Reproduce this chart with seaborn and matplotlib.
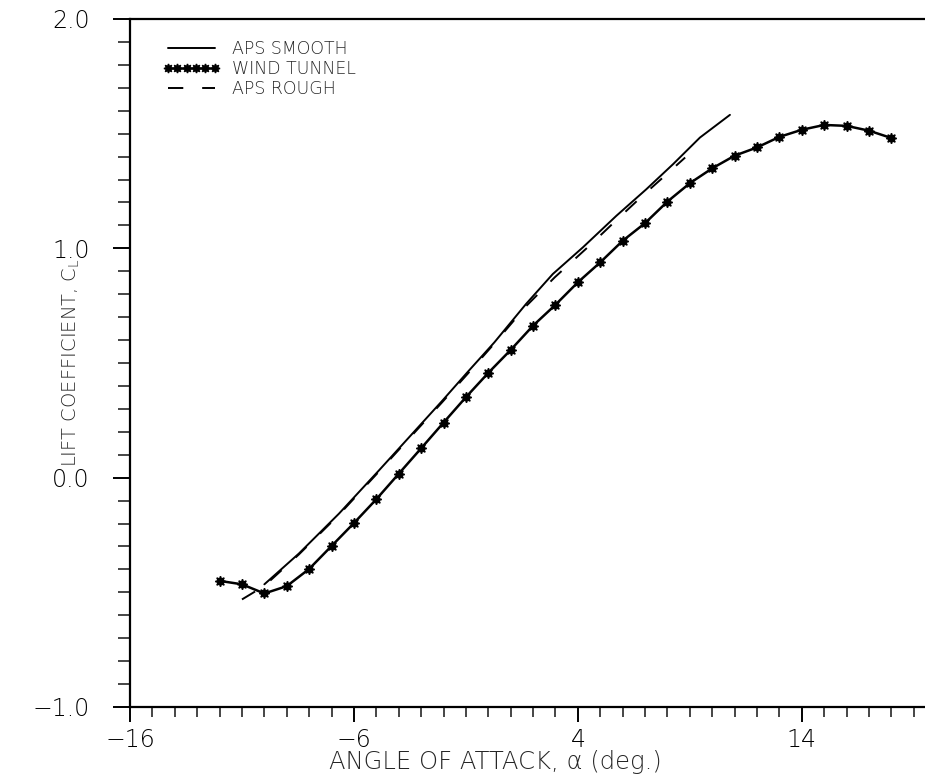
import matplotlib
matplotlib.use("Agg")
import matplotlib.pyplot as plt
import pandas as pd
import seaborn as sns
from matplotlib.lines import Line2D
from matplotlib.ticker import FixedLocator, MultipleLocator, FuncFormatter

# Wind tunnel measurements (angle of attack in deg, lift coefficient)
tunnel_alpha = list(range(-12, 19))
tunnel_cl = [-0.450, -0.465, -0.505, -0.473, -0.398, -0.298, -0.198, -0.094,
             0.017, 0.128, 0.240, 0.351, 0.457, 0.557, 0.663, 0.754, 0.852,
             0.939, 1.033, 1.110, 1.204, 1.284, 1.349, 1.404, 1.440, 1.486,
             1.517, 1.538, 1.534, 1.513, 1.481]

# APS prediction, smooth surface
smooth_alpha = [-10.0, -8.46, -6.67, -4.88, -2.05, -0.93, 0.27, 1.69, 2.88,
                4.22, 5.72, 7.06, 8.25, 9.45, 10.79]
smooth_cl = [-0.465, -0.331, -0.157, 0.032, 0.336, 0.460, 0.590, 0.758, 0.888,
             1.004, 1.142, 1.258, 1.367, 1.483, 1.582]

# APS prediction, rough surface
rough_alpha = [-11.0, -10.0, -8.46, -6.67, -4.88, -2.05, -0.93, 0.27, 1.69,
               2.96, 4.6, 5.72, 6.84, 7.96, 8.79]
rough_cl = [-0.531, -0.472, -0.335, -0.162, 0.027, 0.330, 0.452, 0.585, 0.748,
            0.873, 1.019, 1.123, 1.225, 1.323, 1.396]

x_ticks = [-16, -6, 4, 14]
y_ticks = [-1.0, 0.0, 1.0, 2.0]
series_labels = ["APS SMOOTH", "WIND TUNNEL", "APS ROUGH"]

sns.set_style("ticks")
plt.rcParams["font.family"] = ["DejaVu Sans"]
plt.rcParams["font.weight"] = "light"
plt.rcParams["axes.labelweight"] = "light"
plt.rcParams["mathtext.fontset"] = "custom"
plt.rcParams["mathtext.rm"] = "DejaVu Sans:light"
plt.rcParams["mathtext.it"] = "DejaVu Sans:light"

fig = plt.figure(figsize=(9.25, 7.77), dpi=100)
ax = fig.add_axes([130 / 925, 70 / 777, 795 / 925, 688 / 777])

tunnel = pd.DataFrame({"alpha": tunnel_alpha, "cl": tunnel_cl})
smooth = pd.DataFrame({"alpha": smooth_alpha, "cl": smooth_cl})
rough = pd.DataFrame({"alpha": rough_alpha, "cl": rough_cl})

lw = 1.4
dash = (0, (11.0 / lw, 13.6 / lw))
star = (8, 1, 0)

sns.lineplot(data=smooth, x="alpha", y="cl", ax=ax, color="black", lw=lw,
             sort=False, estimator=None)
sns.lineplot(data=rough, x="alpha", y="cl", ax=ax, color="black", lw=lw,
             linestyle=dash, sort=False, estimator=None)
sns.lineplot(data=tunnel, x="alpha", y="cl", ax=ax, color="black", lw=1.8,
             marker=star, markersize=7.5, markeredgewidth=1.0,
             markeredgecolor="black", sort=False, estimator=None)

ax.set_xlim(-16, 19.5)
ax.set_ylim(-1.0, 2.0)

ax.xaxis.set_major_locator(FixedLocator(x_ticks))
ax.xaxis.set_minor_locator(MultipleLocator(1))
ax.yaxis.set_major_locator(FixedLocator(y_ticks))
ax.yaxis.set_minor_locator(MultipleLocator(0.1))
ax.yaxis.set_major_formatter(
    FuncFormatter(lambda v, _: f"{v:.1f}".replace("-", "\u2212")))

tick_font = 17
ax.tick_params(axis="x", which="major", direction="out", length=11, width=1.4,
               pad=4, labelsize=tick_font, colors="black")
ax.tick_params(axis="x", which="minor", direction="out", length=7, width=1.2)
ax.tick_params(axis="y", which="major", direction="out", length=12, width=1.4,
               pad=17, labelsize=tick_font, colors="black")
ax.tick_params(axis="y", which="minor", direction="out", length=9, width=1.2)

for side in ("left", "bottom", "top"):
    ax.spines[side].set_linewidth(1.6)
    ax.spines[side].set_color("black")
ax.spines["right"].set_visible(False)

ax.set_xlabel("ANGLE OF ATTACK, \u03b1 (deg.)", fontsize=17.5,
              fontweight="light")
ax.set_ylabel(r"LIFT COEFFICIENT, C$_\mathregular{L}$", fontsize=14,
              fontweight="light", va="center")
ax.xaxis.set_label_coords(0.459, -0.062)
ax.yaxis.set_label_coords(-0.074, 0.5)

handles = [
    Line2D([], [], color="black", lw=lw),
    Line2D([], [], color="black", lw=1.8, marker=star, markersize=6.5),
    Line2D([], [], color="black", lw=lw, linestyle=dash),
]
ax.legend(handles, series_labels, loc="upper left",
          bbox_to_anchor=(0.041, 0.969), frameon=False, fontsize=12.5,
          numpoints=6, handlelength=3.3, handletextpad=0.7,
          labelspacing=0.12, borderpad=0, borderaxespad=0)

fig.savefig("out.png", dpi=100)
